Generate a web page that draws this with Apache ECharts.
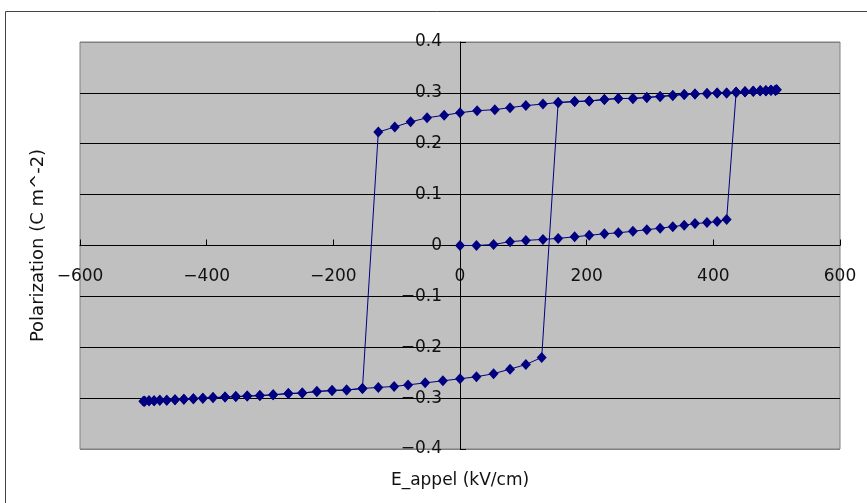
<!DOCTYPE html>
<html>
<head>
<meta charset="utf-8">
<script src="https://cdn.jsdelivr.net/npm/echarts@6/dist/echarts.min.js"></script>
<style>
  html, body { margin: 0; padding: 0; background: #fff; }
  #chart { width: 867px; height: 503px; }
</style>
</head>
<body>
<div id="chart"></div>
<script>
// virgin curve, 0 -> +500 kV/cm
const eVirgin = [0, 26, 53, 79, 104, 131, 155, 181, 204, 228, 250, 273, 295, 316, 336, 354, 371, 390, 406, 421,
  436, 450, 463, 474, 483, 491, 498, 500];
const pVirgin = [0, 0.000, 0.002, 0.0075, 0.010, 0.012, 0.014, 0.017, 0.020, 0.023, 0.025, 0.028, 0.031, 0.034,
  0.037, 0.040, 0.043, 0.045, 0.047, 0.051,
  0.301, 0.302, 0.303, 0.304, 0.304, 0.305, 0.305, 0.306];

// descending sweep, +500 -> -500
const eDown = [498, 491, 483, 474, 463, 450, 436, 421, 406, 390, 371, 354, 336, 316, 295, 273, 250, 228, 204,
  181, 155, 131, 104, 79, 55, 27, 0, -25, -52, -78, -103, -129,
  -154, -179, -202, -226, -249, -271, -295, -316, -336, -354, -371, -390, -406, -421, -436, -450, -463,
  -474, -483, -491, -498, -500];
const pDown = [0.305, 0.305, 0.304, 0.304, 0.303, 0.302, 0.301, 0.300, 0.300, 0.299, 0.298, 0.297, 0.295, 0.293,
  0.291, 0.289, 0.289, 0.287, 0.284, 0.283, 0.281, 0.278, 0.275, 0.271, 0.267, 0.265, 0.261, 0.256, 0.251,
  0.243, 0.233, 0.223,
  -0.281, -0.284, -0.285, -0.287, -0.290, -0.291, -0.2935, -0.295, -0.296, -0.297, -0.298, -0.299, -0.300,
  -0.301, -0.302, -0.303, -0.304, -0.304, -0.305, -0.305, -0.306, -0.306];

// ascending sweep, -500 -> +500
const eUp = [-498, -491, -483, -474, -463, -450, -436, -421, -406, -390, -371, -354, -336, -316, -295, -271,
  -249, -226, -202, -179, -154, -129, -104, -82, -55, -27, 0, 26, 53, 79, 104, 129,
  155, 181, 204, 228, 250, 273, 295, 316, 336, 354, 371, 390, 406, 421, 436, 450, 463, 474, 483, 491, 498, 500];
const pUp = [-0.306, -0.305, -0.305, -0.304, -0.304, -0.303, -0.302, -0.301, -0.300, -0.299, -0.298, -0.297,
  -0.296, -0.295, -0.2935, -0.291, -0.290, -0.287, -0.285, -0.284, -0.281, -0.279, -0.277, -0.274, -0.270,
  -0.266, -0.262, -0.258, -0.252, -0.243, -0.234, -0.220,
  0.281, 0.283, 0.284, 0.287, 0.289, 0.289, 0.291, 0.293, 0.295, 0.297, 0.298, 0.299, 0.300, 0.300, 0.301,
  0.302, 0.303, 0.304, 0.304, 0.305, 0.305, 0.306];

const xTicks = { min: -600, max: 600, step: 200 };
const yTicks = { min: -0.4, max: 0.4, step: 0.1 };

const loop = [];
[[eVirgin, pVirgin], [eDown, pDown], [eUp, pUp]].forEach(([e, p]) => {
  e.forEach((v, i) => loop.push([v, p[i]]));
});

const fontFamily = 'DejaVu Sans';
const minus = (s) => s.replace('-', '\u2212');

// grid box, axes are shifted onto the zero lines with offset
const gridBox = { left: 80, right: 27, top: 42, bottom: 54 };
const plotW = 867 - gridBox.left - gridBox.right;
const plotH = 503 - gridBox.top - gridBox.bottom;
const yAxisShift = plotW * (0 - xTicks.min) / (xTicks.max - xTicks.min);
const xAxisShift = plotH * (0 - yTicks.min) / (yTicks.max - yTicks.min);

const myChart = echarts.init(document.getElementById('chart'), null, { renderer: 'canvas' });
myChart.setOption({
  animation: false,
  backgroundColor: '#fff',
  graphic: [{
    type: 'rect',
    shape: { x: 5.5, y: 11.5, width: 900, height: 520 },
    style: { fill: 'none', stroke: '#444', lineWidth: 1 },
    silent: true
  }],
  grid: Object.assign({
    containLabel: false,
    outerBoundsMode: 'none',
    show: true,
    backgroundColor: '#c0c0c0',
    borderColor: '#808080',
    borderWidth: 1
  }, gridBox),
  xAxis: {
    type: 'value',
    min: xTicks.min,
    max: xTicks.max,
    interval: xTicks.step,
    offset: -xAxisShift,
    name: 'E_appel (kV/cm)',
    nameLocation: 'middle',
    nameGap: 227,
    nameTextStyle: { fontFamily, fontSize: 17, color: '#111' },
    axisLine: { onZero: false, lineStyle: { color: '#000', width: 1 } },
    axisTick: { inside: true, length: 6, lineStyle: { color: '#000' } },
    axisLabel: {
      margin: 23,
      fontFamily,
      fontSize: 17,
      color: '#111',
      formatter: (v) => minus(String(v))
    },
    splitLine: { show: false }
  },
  yAxis: {
    type: 'value',
    min: yTicks.min,
    max: yTicks.max,
    interval: yTicks.step,
    offset: -yAxisShift,
    name: 'Polarization (C m^-2)',
    nameLocation: 'middle',
    nameRotate: 90,
    nameGap: 413,
    nameTextStyle: { fontFamily, fontSize: 18, color: '#111' },
    axisLine: { onZero: false, lineStyle: { color: '#000', width: 1 } },
    axisTick: { inside: true, length: 6, lineStyle: { color: '#000' } },
    axisLabel: {
      margin: 18,
      fontFamily,
      fontSize: 17,
      color: '#111',
      formatter: (v) => {
        const r = Math.round(v * 10) / 10;
        return r === 0 ? '0' : minus(r.toFixed(1));
      }
    },
    splitLine: {
      show: true,
      lineStyle: {
        width: 1,
        color: ['#808080', '#000', '#000', '#000', '#000', '#000', '#000', '#000', '#808080']
      }
    }
  },
  series: [{
    type: 'line',
    data: loop,
    symbol: 'diamond',
    symbolSize: [10, 11],
    showSymbol: true,
    itemStyle: { color: '#000080' },
    lineStyle: { color: '#000080', width: 1 },
    emphasis: { disabled: true }
  }]
});
window.addEventListener('resize', () => myChart.resize());
</script>
</body>
</html>
